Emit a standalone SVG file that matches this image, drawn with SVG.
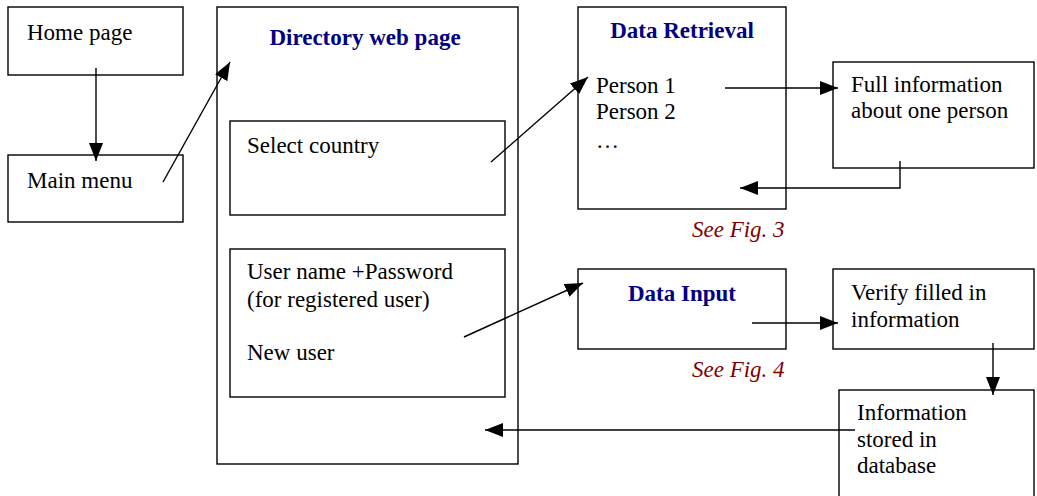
<svg xmlns="http://www.w3.org/2000/svg" width="1037" height="496" viewBox="0 0 1037 496">
<style>
.box{fill:#fff;stroke:#000;stroke-width:1.4}
.t{font-family:"Liberation Serif","Times New Roman",serif;font-size:23px;fill:#000}
.h{font-family:"Liberation Serif","Times New Roman",serif;font-size:23px;font-weight:bold;fill:#000080;text-anchor:middle}
.f{font-family:"Liberation Serif","Times New Roman",serif;font-size:23px;font-style:italic;fill:#800000}
.c{fill:none;stroke:#000;stroke-width:1.4;marker-end:url(#ah)}
</style>
<defs>
<marker id="ah" viewBox="0 0 18 14" refX="18" refY="7" markerWidth="18" markerHeight="14" markerUnits="userSpaceOnUse" orient="auto">
<path d="M0,0 L18,7 L0,14 Z" fill="#000"/>
</marker>
</defs>
<rect width="1037" height="496" fill="#fff"/>
<g id="home"><rect class="box" x="8" y="7" width="175" height="68"/><text class="t" x="27" y="40">Home page</text></g>
<g id="mainmenu"><rect class="box" x="8" y="155" width="175" height="67"/><text class="t" x="27" y="188">Main menu</text></g>
<g id="directory"><rect class="box" x="217" y="7" width="301" height="457"/><text class="h" x="365" y="45">Directory web page</text></g>
<g id="selectcountry"><rect class="box" x="230" y="121" width="275" height="94"/><text class="t" x="247" y="153">Select country</text></g>
<g id="userlogin"><rect class="box" x="230" y="249" width="275" height="148"/><text class="t" x="247" y="279">User name +Password</text><text class="t" x="247" y="307">(for registered user)</text><text class="t" x="247" y="360">New user</text></g>
<g id="dataretrieval"><rect class="box" x="578" y="7" width="208" height="202"/><text class="h" x="682" y="38">Data Retrieval</text><text class="t" x="596" y="93">Person 1</text><text class="t" x="596" y="119">Person 2</text><text class="t" x="596" y="148">…</text></g>
<g id="fullinfo"><rect class="box" x="833" y="62" width="201" height="106"/><text class="t" x="851" y="92">Full information</text><text class="t" x="851" y="118">about one person</text></g>
<g id="seefig3"><text class="f" x="692" y="237">See Fig. 3</text></g>
<g id="datainput"><rect class="box" x="578" y="269" width="208" height="80"/><text class="h" x="682" y="301">Data Input</text></g>
<g id="verify"><rect class="box" x="833" y="269" width="201" height="80"/><text class="t" x="851" y="300">Verify filled in</text><text class="t" x="851" y="327">information</text></g>
<g id="seefig4"><text class="f" x="692" y="377">See Fig. 4</text></g>
<g id="stored"><rect class="box" x="839" y="390" width="195" height="110"/><text class="t" x="857" y="420">Information</text><text class="t" x="857" y="447">stored in</text><text class="t" x="857" y="473">database</text></g>
<g id="connectors">
<path class="c" d="M96,68 L96,161"/>
<path class="c" d="M163,182 L230,62"/>
<path class="c" d="M491,162 L588,77"/>
<path class="c" d="M725,88 L838,88"/>
<path class="c" d="M900,161 L900,188 L740,188"/>
<path class="c" d="M464,337 L583,283"/>
<path class="c" d="M752,323 L838,323"/>
<path class="c" d="M993,343 L993,395"/>
<path class="c" d="M855,430 L485,430"/>
</g>
</svg>
